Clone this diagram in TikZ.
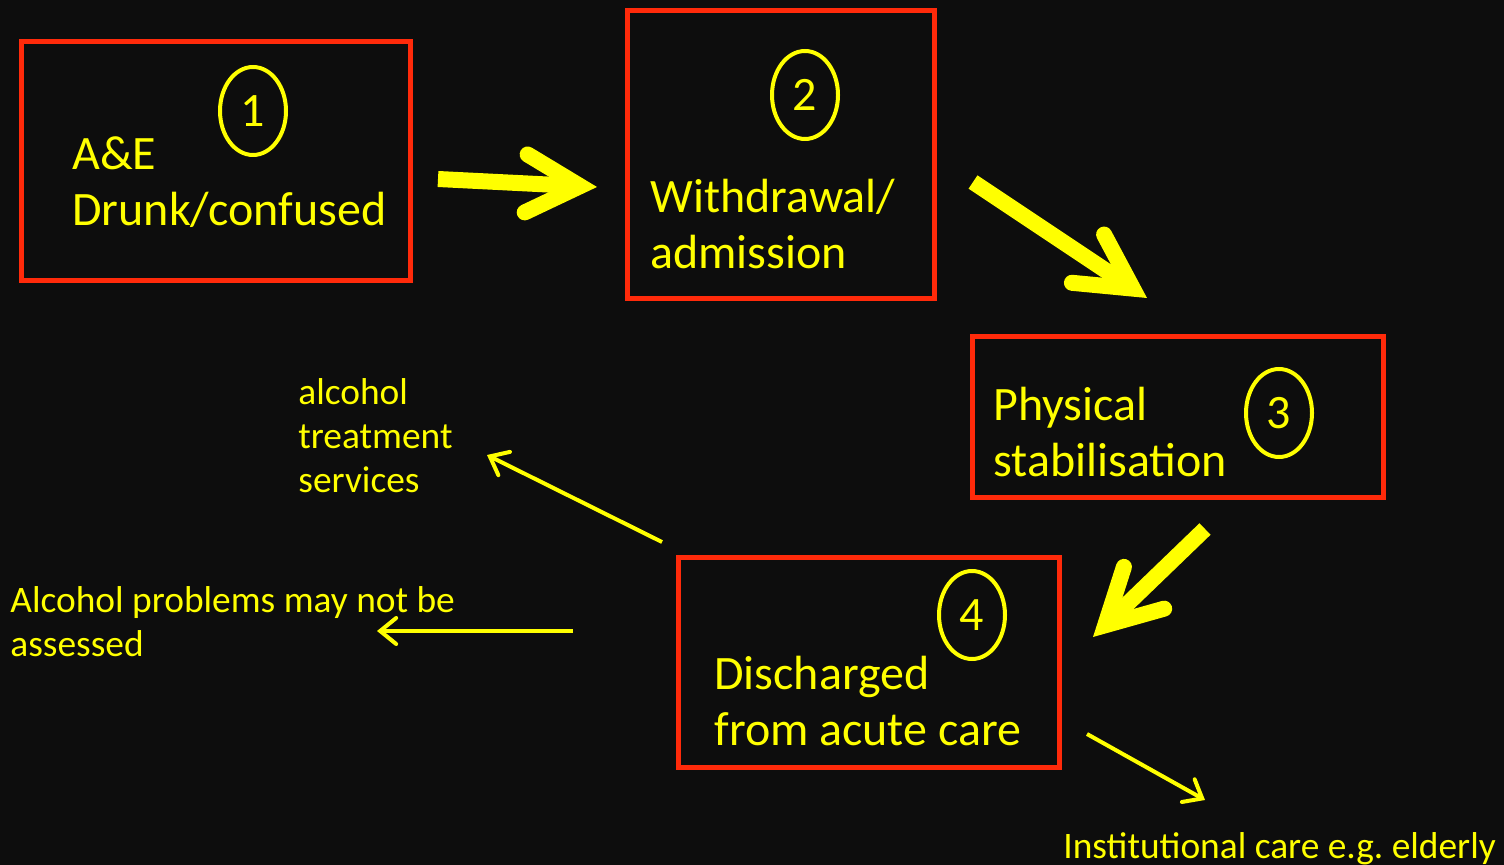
\documentclass[tikz,border=0pt]{standalone}
\usepackage{fontspec}
\setmainfont{Carlito}
\usetikzlibrary{arrows.meta,shapes.geometric}
\definecolor{bg}{HTML}{0D0D0D}
\definecolor{yel}{HTML}{FFFF00}
\definecolor{redb}{HTML}{FF2A0A}
\frenchspacing
\tikzset{
  box/.style={draw=redb, line width=2.5pt, inner sep=0pt},
  numring/.style={draw=yel, line width=2pt, ellipse, inner sep=0pt, minimum width=33pt, minimum height=44pt, text=yel, font=\fontsize{24}{28}\selectfont},
  bigtext/.style={text=yel, font=\fontsize{24}{28}\selectfont, align=left, anchor=base west, inner sep=0pt},
  smalltext/.style={text=yel, font=\fontsize{18.7}{22}\selectfont, align=left, anchor=base west, inner sep=0pt},
  bigarrow/.style={draw=yel, line width=8pt, -{Straight Barb[length=27pt, width=29pt, line cap=round, line join=miter]}},
  thinarrow/.style={draw=yel, line width=2pt, -{Straight Barb[length=8pt, width=13pt, line cap=round, line join=miter]}}
}
\begin{document}
\begin{tikzpicture}[x=0.5pt, y=-0.5pt]
\fill[bg] (0,0) rectangle (1504,865);
\useasboundingbox (0,0) rectangle (1504,865);
% boxes
\node[box, minimum width=194.5pt, minimum height=119.5pt] (b1) at (215.5,161.5) {};
\node[box, minimum width=153.5pt, minimum height=144pt] (b2) at (780.5,155) {};
\node[box, minimum width=205.5pt, minimum height=80.5pt] (b3) at (1177.5,417.5) {};
\node[box, minimum width=190.5pt, minimum height=104.5pt] (b4) at (868.5,662.5) {};
% number rings
\node[numring] (n1) at (253,111) {1};
\node[numring] (n2) at (805,95) {2};
\node[numring] (n3) at (1279,413) {3};
\node[numring] (n4) at (972,615) {4};
% box texts (anchor = baseline of last line)
\node[bigtext] (t1) at (72,226) {A\&E\\Drunk/confused};
\node[bigtext] (t2) at (650,269) {Withdrawal/\\admission};
\node[bigtext] (t3) at (993,477) {Physical\\stabilisation};
\node[bigtext] (t4) at (714,745) {Discharged\\from acute care};
% side texts
\node[smalltext] (s1) at (298,493) {alcohol\\treatment\\services};
\node[smalltext] (s2) at (10,656) {Alcohol problems may not be\\assessed};
\node[smalltext] (s3) at (1063,858) {Institutional care e.g. elderly};
% arrow end points
\coordinate (a1s) at (438,179);
\coordinate (a1e) at (597,187);
\coordinate (a2s) at (973,182);
\coordinate (a2e) at (1147,298);
\coordinate (a3s) at (1205,529);
\coordinate (a3e) at (1093,637);
\coordinate (c1s) at (662,542);
\coordinate (c1e) at (487,455);
\coordinate (c2s) at (573,631);
\coordinate (c2e) at (377,631);
\coordinate (c3s) at (1087,734);
\coordinate (c3e) at (1205,800);
% arrows
\draw[bigarrow] (a1s) -- (a1e);
\draw[bigarrow] (a2s) -- (a2e);
\draw[bigarrow] (a3s) -- (a3e);
\draw[thinarrow] (c1s) -- (c1e);
\draw[thinarrow] (c2s) -- (c2e);
\draw[thinarrow] (c3s) -- (c3e);
\end{tikzpicture}
\end{document}
